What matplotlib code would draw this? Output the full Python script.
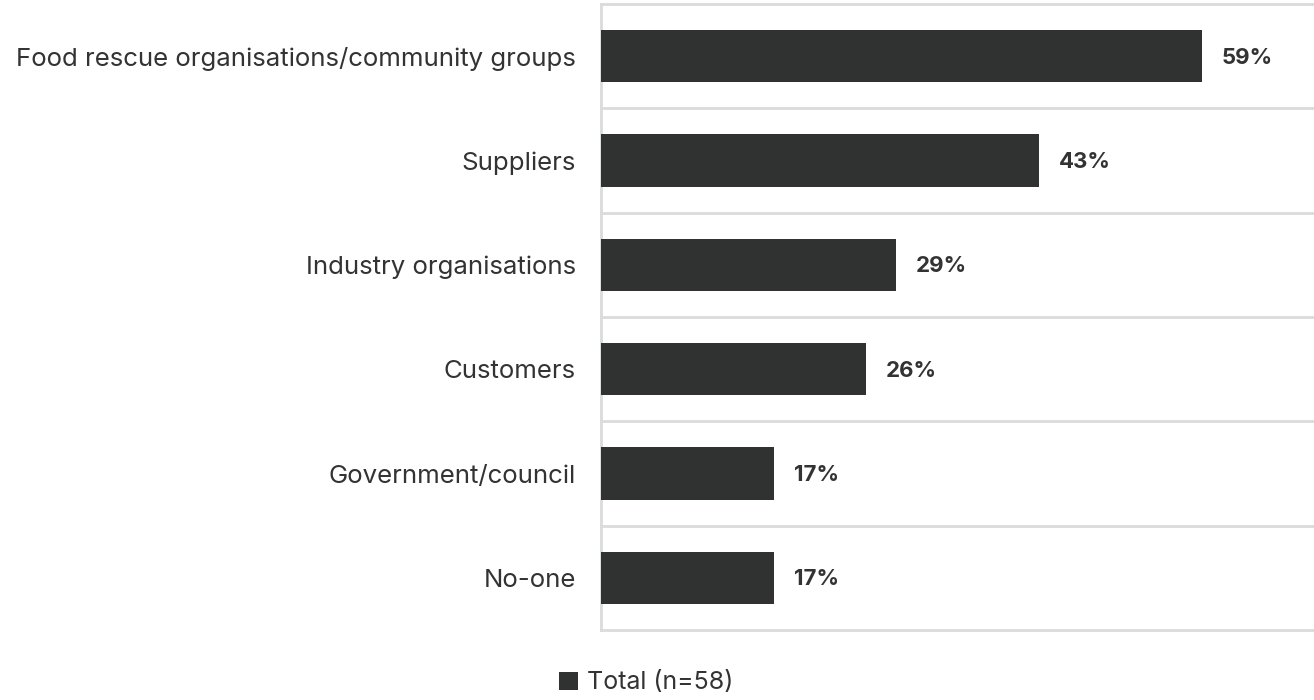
import matplotlib
matplotlib.use("Agg")
import matplotlib.pyplot as plt
from matplotlib.patches import Patch

categories = [
    "Food rescue organisations/community groups",
    "Suppliers",
    "Industry organisations",
    "Customers",
    "Government/council",
    "No-one",
]
values = [59, 43, 29, 26, 17, 17]
series_name = "Total (n=58)"

bar_color = "#303231"
grid_color = "#d9dcdb"
text_color = "#333333"

plt.rcParams["font.family"] = ["Inter", "DejaVu Sans"]

fig = plt.figure(figsize=(13.14, 7.0), dpi=100)
ax = fig.add_axes([601 / 1314, 0.1, 1 - 601 / 1314, 1 - 0.1 - 4 / 700])

n = len(categories)
ypos = list(range(n))
ax.barh(ypos, values, height=0.5, color=bar_color, zorder=3)

ax.set_xlim(0, 70)
ax.set_ylim(n - 0.5, -0.5)

# category separators
for b in range(n + 1):
    ax.axhline(b - 0.5, color=grid_color, lw=2, zorder=1, clip_on=False)

for s in ["top", "right", "bottom"]:
    ax.spines[s].set_visible(False)
ax.spines["left"].set_color(grid_color)
ax.spines["left"].set_linewidth(2)

ax.set_xticks([])
ax.set_yticks(ypos)
ax.set_yticklabels(categories, fontsize=18.6, color=text_color)
ax.tick_params(axis="y", length=0, pad=18)

for y, v in zip(ypos, values):
    ax.annotate(f"{v}%", xy=(v, y), xytext=(14, -1), textcoords="offset points",
                ha="left", va="center", fontsize=16, fontweight="bold",
                color=text_color)

handle = Patch(facecolor=bar_color, edgecolor="none")
fig.legend([handle], [series_name], loc="center",
           bbox_to_anchor=(646 / 1314, 1 - 683 / 700),
           frameon=False, fontsize=18, handlelength=0.75, handleheight=0.75,
           handletextpad=0.35, labelcolor=text_color)

fig.savefig("out.png", dpi=100, facecolor="white")
